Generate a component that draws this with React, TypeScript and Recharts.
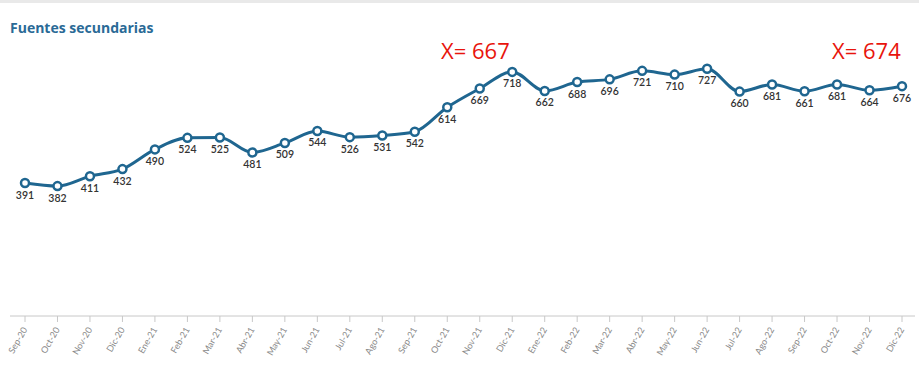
import { LineChart, Line, XAxis, YAxis, LabelList } from "recharts"

const months = [
  "Sep-20", "Oct-20", "Nov-20", "Dic-20", "Ene-21", "Feb-21", "Mar-21", "Abr-21", "May-21", "Jun-21",
  "Jul-21", "Ago-21", "Sep-21", "Oct-21", "Nov-21", "Dic-21", "Ene-22", "Feb-22", "Mar-22", "Abr-22",
  "May-22", "Jun-22", "Jul-22", "Ago-22", "Sep-22", "Oct-22", "Nov-22", "Dic-22",
];
const values = [
  391, 382, 411, 432, 490, 524, 525, 481, 509, 544,
  526, 531, 542, 614, 669, 718, 662, 688, 696, 721,
  710, 727, 660, 681, 661, 681, 664, 676,
];
const annotations = [
  { text: "X= 667", left: 441 },
  { text: "X= 674", left: 832 },
];

const data = months.map((month, i) => ({ month, value: values[i] }));

const BLUE = "#1f6690";

function MonthTick({ x, y, payload }: any) {
  return (
    <g transform={`translate(${x},${y + 4})`}>
      <text textAnchor="end" transform="rotate(-60)" fontSize={9} fill="#888" dy={3}>
        {payload.value}
      </text>
    </g>
  );
}

export default function App() {
  return (
    <div style={{ position: "absolute", left: 0, top: 0, width: 919, height: 369, background: "#fff", fontFamily: "Lato, sans-serif" }}>
      <div style={{ position: "absolute", left: 0, top: 0, width: 919, height: 3, background: "#e9e9e9" }} />
      <div style={{ position: "absolute", left: 10, top: 18, fontSize: 14, fontWeight: 700, color: "#2a6a96", fontFamily: "'Open Sans', sans-serif" }}>
        Fuentes secundarias
      </div>
      {annotations.map((a) => (
        <div key={a.text} style={{ position: "absolute", left: a.left, top: 37, fontSize: 22, color: "#e8140c", fontFamily: "'Open Sans', sans-serif", lineHeight: "26px" }}>
          {a.text}
        </div>
      ))}
      <LineChart width={919} height={369} data={data} margin={{ top: 44, right: 4, bottom: 0, left: 10 }}>
        <XAxis
          dataKey="month"
          interval={0}
          height={53}
          padding={{ left: 15, right: 13 }}
          stroke="#c8c8c8"
          tickSize={6}
          tick={<MonthTick />}
        />
        <YAxis hide domain={[0, 800]} />
        <Line
          type="monotone"
          dataKey="value"
          stroke={BLUE}
          strokeWidth={3}
          dot={{ r: 4, fill: "#fff", stroke: BLUE, strokeWidth: 2.5 }}
          isAnimationActive={false}
        >
          <LabelList dataKey="value" position="bottom" offset={8} fontSize={10.5} fontWeight={600} fill="#333" />
        </Line>
      </LineChart>
    </div>
  );
}
